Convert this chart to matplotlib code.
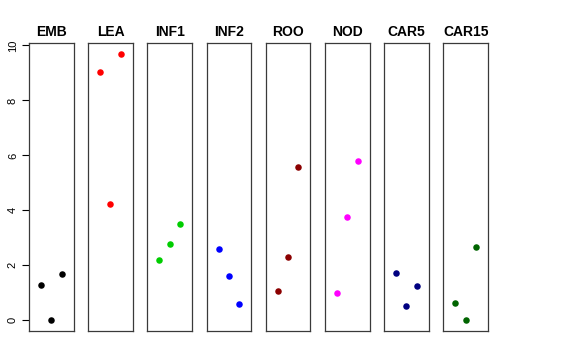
import matplotlib
matplotlib.use("Agg")
import matplotlib.pyplot as plt

plt.rcParams['font.family'] = ['Liberation Sans', 'DejaVu Sans']

tissues = ["EMB", "LEA", "INF1", "INF2", "ROO", "NOD", "CAR5", "CAR15"]
colors = ["black", "red", "#00CD00", "blue", "#8B0000", "magenta", "#000080", "#006400"]
# three replicates per tissue, in plotting order
values = {
    "EMB": [1.30, 0.00, 1.68],
    "LEA": [9.03, 4.24, 9.70],
    "INF1": [2.21, 2.78, 3.49],
    "INF2": [2.60, 1.63, 0.58],
    "ROO": [1.07, 2.30, 5.57],
    "NOD": [0.99, 3.76, 5.80],
    "CAR5": [1.72, 0.51, 1.24],
    "CAR15": [0.62, 0.00, 2.68],
}
reps = [1, 2, 3]

W, H = 576, 360
fig = plt.figure(figsize=(W / 100, H / 100), dpi=100)

left0, step, width = 29, 59.2, 44.5
top, bottom = 43, 331
ymax = max(max(v) for v in values.values())
pad = 0.04 * ymax

for i, (name, col) in enumerate(zip(tissues, colors)):
    x0 = left0 + i * step
    ax = fig.add_axes([x0 / W, 1 - bottom / H, width / W, (bottom - top) / H])
    ax.scatter(reps, values[name], s=22, color=col, zorder=3, linewidths=0)
    ax.set_xlim(-0.16, 4.16)
    ax.set_ylim(-pad, ymax + pad)
    ax.set_xticks([])
    ax.set_title(name, fontsize=10, fontweight='bold', pad=5)
    for s in ax.spines.values():
        s.set_color("#3a3a3a")
        s.set_linewidth(0.9)
    if i == 0:
        ax.set_yticks([0, 2, 4, 6, 8, 10])
        ax.tick_params(axis='y', length=5, labelsize=8, pad=3)
        for lab in ax.get_yticklabels():
            lab.set_rotation(90)
            lab.set_va('center')
    else:
        ax.set_yticks([])

fig.savefig("out.png", dpi=100)
